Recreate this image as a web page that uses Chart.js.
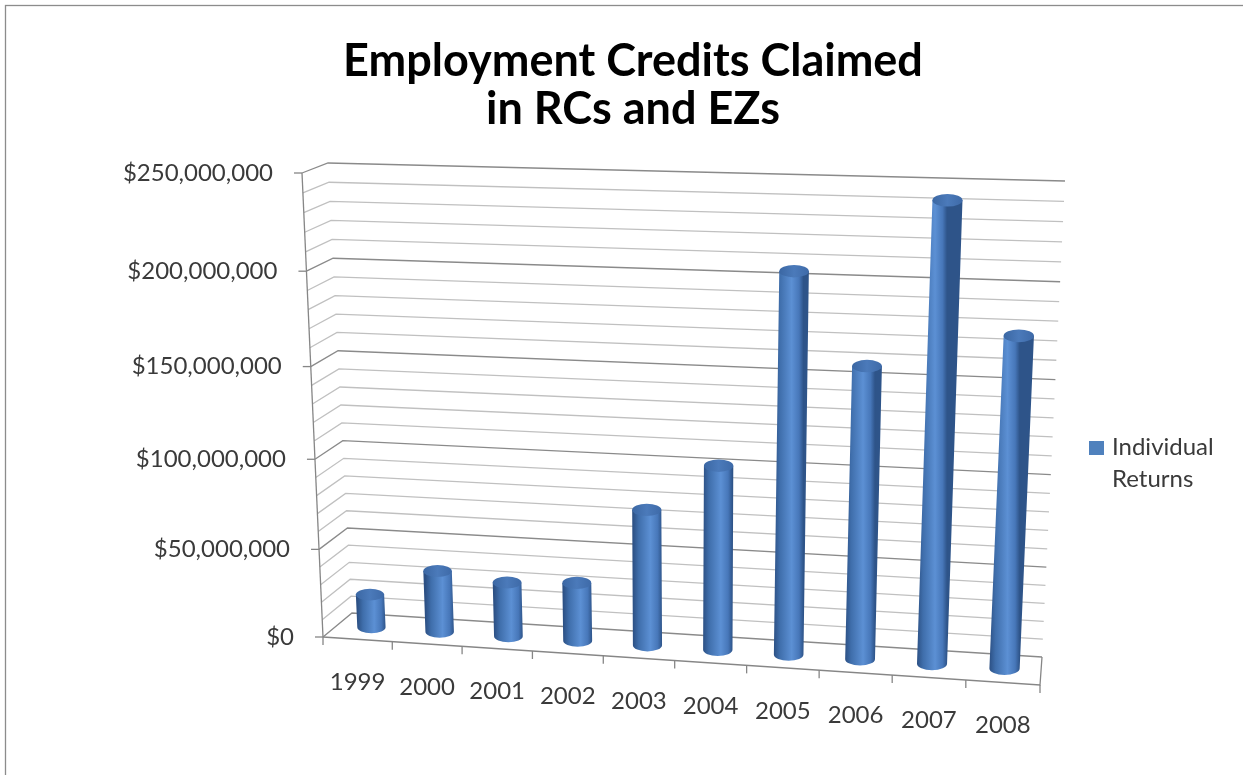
<!DOCTYPE html>
<html>
<head>
<meta charset="utf-8">
<title>Employment Credits Claimed in RCs and EZs</title>
<script src="https://cdn.jsdelivr.net/npm/chart.js@4.4.1/dist/chart.umd.min.js"></script>
<style>
  html, body { margin: 0; padding: 0; background: #fff; }
  canvas { display: block; }
</style>
</head>
<body>
<canvas id="chart" width="1243" height="775"></canvas>
<script>
/* ── data ── */
const years = ['1999', '2000', '2001', '2002', '2003', '2004', '2005', '2006', '2007', '2008'];
const credits = [19000000, 35000000, 30800000, 33000000, 76000000, 102000000, 205000000, 158000000, 242500000, 176500000];
const seriesName = 'Individual Returns';
const yTicks = [0, 50000000, 100000000, 150000000, 200000000, 250000000];
const yMinorStep = 10000000;

/* ── 3D box (screen corners of floor and walls) ── */
const box = {
  flb: [323, 637], frb: [1040, 685],
  blb: [352, 613], brb: [1042, 657],
  flt: [302, 173], frt: [1063, 195],
  blt: [328, 163], brt: [1065, 181]
};
const warpU = -0.0373;   // horizontal foreshortening
const warpH = -0.0687;   // vertical foreshortening
const barDepth = 0.5;

const FONT = 'Lato, "Open Sans", sans-serif';
const TEXT = '#3a3a3a';

function lerp(a, b, t) { return [a[0] + (b[0] - a[0]) * t, a[1] + (b[1] - a[1]) * t]; }

// u: 0..1 across categories, h: 0..1 up the value axis, d: 0 front .. 1 back
function project(u, h, d) {
  const us = u * (1 + warpU) / (1 + warpU * u);
  const hs = h * (1 + warpH) / (1 + warpH * h);
  const bot = lerp(lerp(box.flb, box.frb, us), lerp(box.blb, box.brb, us), d);
  const top = lerp(lerp(box.flt, box.frt, us), lerp(box.blt, box.brt, us), d);
  return lerp(bot, top, hs);
}

function line(ctx, pts) {
  ctx.beginPath();
  ctx.moveTo(pts[0][0], pts[0][1]);
  for (let i = 1; i < pts.length; i++) ctx.lineTo(pts[i][0], pts[i][1]);
  ctx.stroke();
}

const fmtMoney = v => '$' + v.toLocaleString('en-US');

/* ── walls, floor, axes ── */
const frame3d = {
  id: 'frame3d',
  beforeDatasetsDraw(chart) {
    const { ctx, scales: { x, y } } = chart;
    const hOf = v => (y.bottom - y.getPixelForValue(v)) / y.height;
    const uOf = v => (x.getPixelForValue(v) - x.left) / x.width;
    const yMax = yTicks[yTicks.length - 1];

    ctx.save();
    ctx.lineWidth = 1.3;

    // minor gridlines
    ctx.strokeStyle = '#c0c0c0';
    for (let v = yMinorStep; v < yMax; v += yMinorStep) {
      if (yTicks.includes(v)) continue;
      const h = hOf(v);
      line(ctx, [project(0, h, 0), project(0, h, 1), project(1, h, 1)]);
    }
    // major gridlines
    ctx.strokeStyle = '#8a8a8a';
    yTicks.forEach(v => {
      const h = hOf(v);
      line(ctx, [project(0, h, 0), project(0, h, 1), project(1, h, 1)]);
    });

    // floor edges and value axis
    ctx.strokeStyle = '#868686';
    line(ctx, [project(0, 0, 0), project(1, 0, 0), project(1, 0, 1)]);
    line(ctx, [project(0, 0, 0), project(0, 1, 0)]);

    // tick marks
    yTicks.forEach(v => {
      const p = project(0, hOf(v), 0);
      line(ctx, [[p[0] - 8, p[1]], p]);
    });
    for (let k = 0; k <= years.length; k++) {
      const p = project(uOf(k - 0.5), 0, 0);
      line(ctx, [p, [p[0], p[1] + 8]]);
    }

    // tick labels
    ctx.fillStyle = TEXT;
    ctx.font = '24px ' + FONT;
    ctx.textBaseline = 'middle';
    ctx.textAlign = 'right';
    yTicks.forEach(v => {
      const p = project(0, hOf(v), 0);
      ctx.fillText(fmtMoney(v), p[0] - 29, p[1]);
    });
    ctx.textAlign = 'center';
    years.forEach((yr, i) => {
      const p = project(uOf(i), 0, 0);
      ctx.fillText(yr, p[0], p[1] + 43);
    });
    ctx.restore();
  },

  // bars are drawn as cylinders standing in the middle of the floor
  beforeDatasetDraw(chart, args) {
    const { ctx, scales: { x, y } } = chart;
    ctx.save();
    args.meta.data.forEach(bar => {
      const u = (bar.x - x.left) / x.width;
      const du = bar.width / x.width;
      const h = (y.bottom - bar.y) / y.height;
      const c0 = project(u, 0, barDepth);
      const c1 = project(u, h, barDepth);
      const rx = (project(u + du / 2, 0, barDepth)[0] - project(u - du / 2, 0, barDepth)[0]) / 2;
      const ry = rx * 0.42;

      const g = ctx.createLinearGradient(c0[0] - rx, 0, c0[0] + rx, 0);
      g.addColorStop(0, '#2c5084');
      g.addColorStop(0.2, '#3f6eab');
      g.addColorStop(0.6, '#5c90d4');
      g.addColorStop(0.85, '#4777b9');
      g.addColorStop(1, '#2e5489');
      ctx.fillStyle = g;
      ctx.beginPath();
      ctx.moveTo(c1[0] - rx, c1[1]);
      ctx.lineTo(c0[0] - rx, c0[1]);
      ctx.ellipse(c0[0], c0[1], rx, ry, 0, Math.PI, 0, true);
      ctx.lineTo(c1[0] + rx, c1[1]);
      ctx.closePath();
      ctx.fill();

      const gt = ctx.createLinearGradient(c1[0] - rx, c1[1], c1[0] + rx, c1[1]);
      gt.addColorStop(0, '#3b67a3');
      gt.addColorStop(0.5, '#4b7aba');
      gt.addColorStop(1, '#3e6aa8');
      ctx.fillStyle = gt;
      ctx.beginPath();
      ctx.ellipse(c1[0], c1[1], rx, ry, 0, 0, Math.PI * 2);
      ctx.fill();
    });
    ctx.restore();
    return false;
  },

  afterDraw(chart) {
    const { ctx } = chart;
    ctx.save();
    // legend
    ctx.fillStyle = '#4f81bd';
    ctx.fillRect(1089, 441, 15, 14);
    ctx.fillStyle = TEXT;
    ctx.font = '24px ' + FONT;
    ctx.textAlign = 'left';
    ctx.textBaseline = 'middle';
    chart.data.datasets[0].label.split(' ').forEach((w, i) => {
      ctx.fillText(w, 1112, 447 + i * 32);
    });
    // chart border
    ctx.strokeStyle = '#8c8c8c';
    ctx.lineWidth = 1.3;
    ctx.strokeRect(5.5, 5.5, 1400, 1400);
    ctx.restore();
  }
};

new Chart(document.getElementById('chart'), {
  type: 'bar',
  data: {
    labels: years,
    datasets: [{
      label: seriesName,
      data: credits,
      backgroundColor: '#4f81bd',
      categoryPercentage: 0.8,
      barPercentage: 0.52
    }]
  },
  options: {
    responsive: false,
    animation: false,
    layout: { padding: { top: 37, left: 23, right: 0, bottom: 40 } },
    plugins: {
      legend: { display: false },
      tooltip: { enabled: false },
      title: {
        display: true,
        text: ['Employment Credits Claimed', 'in RCs and EZs'],
        color: '#000',
        font: { family: FONT, size: 45, weight: 'bold', lineHeight: 1.08 },
        padding: { top: 0, bottom: 20 }
      }
    },
    scales: {
      x: { display: false },
      y: { display: false, min: 0, max: yTicks[yTicks.length - 1] }
    }
  },
  plugins: [frame3d]
});
</script>
</body>
</html>
